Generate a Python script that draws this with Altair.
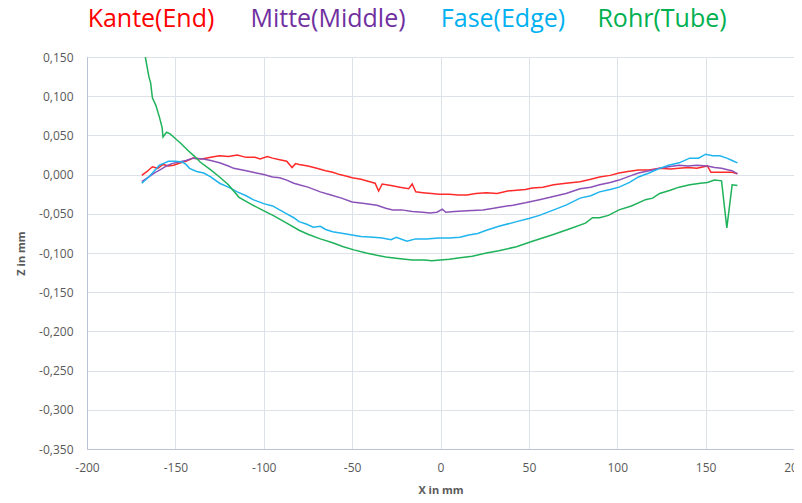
import altair as alt
import pandas as pd

# ---- data ----
kante_x = [-169, -166, -163, -160, -157, -154, -151, -147, -144, -140, -135, -130, -125, -120, -115,
           -110, -105, -102, -98, -95, -91, -87, -84, -82, -80, -75, -70, -65, -61, -57, -53, -50,
           -45, -40, -37, -35, -33, -28, -23, -18, -16, -14, -10, -5, -1, 5, 10, 15, 20, 26, 32,
           38, 43, 48, 52, 58, 64, 71, 79, 85, 90, 96, 101, 106, 112, 118, 124, 130, 135, 140, 145,
           151, 153, 158, 162, 165, 168]
kante_z = [-0.001, 0.004, 0.010, 0.008, 0.013, 0.011, 0.012, 0.015, 0.017, 0.021, 0.020, 0.022, 0.024,
           0.023, 0.025, 0.022, 0.022, 0.020, 0.023, 0.021, 0.019, 0.017, 0.009, 0.014, 0.013, 0.011,
           0.008, 0.005, 0.003, 0.000, -0.002, -0.004, -0.006, -0.009, -0.011, -0.021, -0.012, -0.014,
           -0.016, -0.018, -0.012, -0.022, -0.023, -0.024, -0.025, -0.025, -0.026, -0.026, -0.024,
           -0.023, -0.024, -0.021, -0.020, -0.019, -0.017, -0.016, -0.013, -0.011, -0.009, -0.006,
           -0.003, -0.001, 0.002, 0.004, 0.006, 0.006, 0.008, 0.007, 0.008, 0.009, 0.008, 0.011,
           0.003, 0.003, 0.003, 0.003, 0.001]

mitte_x = [-169, -165, -162, -158, -155, -152, -148, -144, -140, -134, -130, -125, -120, -117, -112,
           -106, -100, -95, -91, -87, -83, -80, -75, -68, -62, -56, -50, -43, -36, -31, -27, -22, -16,
           -10, -6, -2, 1, 3, 8, 15, 24, 30, 35, 41, 48, 56, 62, 71, 79, 85, 90, 96, 101, 107, 112,
           118, 124, 129, 135, 140, 145, 151, 155, 159, 163, 165, 168]
mitte_z = [-0.009, -0.003, 0.002, 0.007, 0.011, 0.014, 0.016, 0.018, 0.021, 0.020, 0.018, 0.015, 0.011,
           0.008, 0.006, 0.003, 0.000, -0.003, -0.004, -0.007, -0.011, -0.013, -0.016, -0.022, -0.026,
           -0.030, -0.035, -0.037, -0.039, -0.043, -0.045, -0.045, -0.047, -0.048, -0.049, -0.048,
           -0.044, -0.048, -0.047, -0.046, -0.045, -0.043, -0.041, -0.039, -0.036, -0.032, -0.029,
           -0.024, -0.018, -0.016, -0.013, -0.010, -0.007, -0.002, 0.002, 0.005, 0.008, 0.010, 0.012,
           0.011, 0.012, 0.011, 0.009, 0.008, 0.006, 0.005, 0.001]

fase_x = [-169, -166, -163, -159, -156, -154, -150, -146, -144, -142, -138, -134, -130, -125, -120,
          -115, -110, -106, -100, -95, -91, -87, -83, -80, -76, -72, -68, -65, -61, -55, -50, -45,
          -38, -33, -28, -25, -19, -14, -8, -1, 5, 11, 16, 21, 26, 33, 43, 50, 56, 63, 71, 79, 85,
          90, 96, 101, 107, 112, 118, 124, 129, 135, 141, 146, 150, 154, 158, 162, 165, 168]
fase_z = [-0.011, -0.005, 0.002, 0.012, 0.015, 0.017, 0.017, 0.016, 0.013, 0.008, 0.004, 0.002, -0.003,
          -0.011, -0.016, -0.022, -0.027, -0.032, -0.037, -0.040, -0.045, -0.050, -0.055, -0.060,
          -0.063, -0.067, -0.066, -0.070, -0.073, -0.075, -0.077, -0.079, -0.080, -0.081, -0.083,
          -0.080, -0.085, -0.082, -0.082, -0.081, -0.081, -0.080, -0.077, -0.075, -0.071, -0.066,
          -0.060, -0.056, -0.052, -0.046, -0.039, -0.030, -0.027, -0.022, -0.019, -0.016, -0.010,
          -0.003, 0.002, 0.008, 0.012, 0.015, 0.021, 0.021, 0.026, 0.024, 0.024, 0.021, 0.018, 0.015]

rohr_x = [-167, -165, -164, -163, -161, -159, -157.5, -157, -155, -153, -151, -147, -143, -139, -136,
          -130, -125, -120, -114, -107, -101, -94, -87, -80, -75, -68, -61, -55, -49, -42, -36, -31,
          -24, -16, -9, -5, 0, 5, 11, 18, 26, 33, 43, 52, 63, 72, 82, 86, 90, 95, 101, 108, 116, 120,
          124, 130, 135, 141, 147, 151, 155, 159, 162, 165, 168]
rohr_z = [0.150, 0.125, 0.117, 0.098, 0.088, 0.073, 0.060, 0.048, 0.054, 0.052, 0.048, 0.040, 0.031,
          0.023, 0.016, 0.006, -0.003, -0.013, -0.029, -0.038, -0.045, -0.053, -0.062, -0.071, -0.076,
          -0.082, -0.087, -0.092, -0.096, -0.100, -0.103, -0.105, -0.107, -0.109, -0.109, -0.110,
          -0.109, -0.108, -0.106, -0.104, -0.100, -0.097, -0.092, -0.085, -0.077, -0.070, -0.062,
          -0.055, -0.055, -0.052, -0.045, -0.040, -0.032, -0.030, -0.024, -0.020, -0.016, -0.013,
          -0.011, -0.010, -0.007, -0.008, -0.068, -0.013, -0.014]

series_names = ["Kante(End)", "Mitte(Middle)", "Fase(Edge)", "Rohr(Tube)"]
line_colors = ["#ff2a2a", "#8a52b8", "#1fb4ee", "#1fb25a"]
text_colors = ["#ff0000", "#7030a0", "#00b0f0", "#00b050"]
x_ticks = [-200, -150, -100, -50, 0, 50, 100, 150, 200]
y_ticks = [-0.35, -0.30, -0.25, -0.20, -0.15, -0.10, -0.05, 0.0, 0.05, 0.10, 0.15]

rows = []
for name, xs, zs in zip(series_names,
                        [kante_x, mitte_x, fase_x, rohr_x],
                        [kante_z, mitte_z, fase_z, rohr_z]):
    for i, (xv, zv) in enumerate(zip(xs, zs)):
        rows.append({"series": name, "x": xv, "z": zv, "order": i})
df = pd.DataFrame(rows)

axis_common = dict(
    labelColor="#595959", labelFont="Open Sans", labelFontSize=12, labelFlush=False,
    titleColor="#595959", titleFont="Open Sans", titleFontSize=11, titleFontWeight="bold",
    gridColor="#dde1e8", gridWidth=1, domainColor="#b8c3d6", ticks=False,
)

lines = alt.Chart(df).mark_line(strokeWidth=1.5, clip=True).encode(
    x=alt.X("x:Q", scale=alt.Scale(domain=[-200, 200], nice=False),
            axis=alt.Axis(title="X in mm", values=x_ticks, labelPadding=13, titlePadding=11,
                          labelExpr="datum.value + ''", **axis_common)),
    y=alt.Y("z:Q", scale=alt.Scale(domain=[-0.35, 0.15], nice=False, zero=False),
            axis=alt.Axis(title="Z in mm", values=y_ticks, labelPadding=14, titlePadding=12,
                          labelExpr="replace(replace(format(datum.value, '.3f'), '.', ','), '\u2212', '-')",
                          **axis_common)),
    color=alt.Color("series:N", scale=alt.Scale(domain=series_names, range=line_colors), legend=None),
    order="order:Q",
)

legend_x = [64, 241, 416, 575]
layers = [lines]
for name, col, px in zip(series_names, text_colors, legend_x):
    layers.append(
        alt.Chart(pd.DataFrame({"label": [name]})).mark_text(
            font="Open Sans", fontSize=25, color=col, align="center", baseline="alphabetic"
        ).encode(text="label:N", x=alt.value(px), y=alt.value(-30))
    )

chart = alt.layer(*layers).properties(
    width=707, height=392,
    autosize=alt.AutoSizeParams(type="none"),
    padding={"left": 79, "top": 49, "right": 0, "bottom": 46},
).configure_view(stroke=None).configure(background="white")

chart.save("out.html", embed_options={"renderer": "svg", "actions": False})
